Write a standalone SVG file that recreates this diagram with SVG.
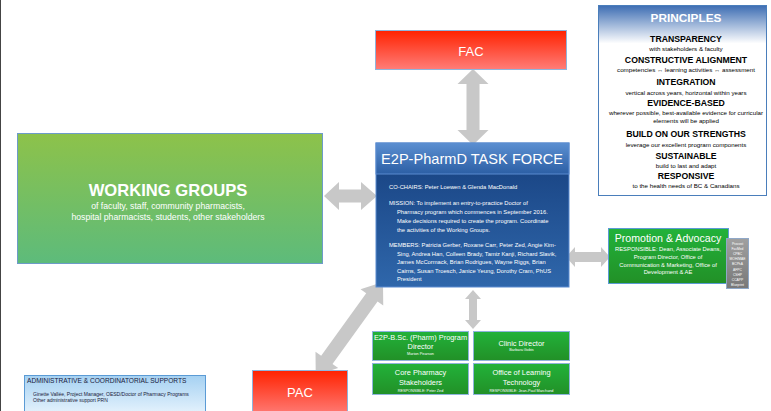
<svg xmlns="http://www.w3.org/2000/svg" width="771" height="411" viewBox="0 0 771 411">
<defs>
<linearGradient id="gRed" x1="0" y1="0" x2="0" y2="1"><stop offset="0" stop-color="#ff2200"/><stop offset="1" stop-color="#ff7d78"/></linearGradient>
<linearGradient id="gWG" x1="0" y1="0" x2="0" y2="1"><stop offset="0" stop-color="#8dc24a"/><stop offset="1" stop-color="#5dbb7b"/></linearGradient>
<linearGradient id="gTFHead" x1="0" y1="0" x2="0" y2="1"><stop offset="0" stop-color="#5b8fd1"/><stop offset="1" stop-color="#2c5fa5"/></linearGradient>
<linearGradient id="gTFBody" x1="0" y1="0" x2="0" y2="1"><stop offset="0" stop-color="#163f7e"/><stop offset="1" stop-color="#2f67ab"/></linearGradient>
<linearGradient id="gGreen" x1="0" y1="0" x2="0" y2="1"><stop offset="0" stop-color="#22b23a"/><stop offset="1" stop-color="#229027"/></linearGradient>
<linearGradient id="gGray" x1="0" y1="0" x2="0" y2="1"><stop offset="0" stop-color="#a0a0a0"/><stop offset="1" stop-color="#787878"/></linearGradient>
<linearGradient id="gAdmin" x1="0" y1="0" x2="0" y2="1"><stop offset="0" stop-color="#a5d1f2"/><stop offset="1" stop-color="#e8f4fd"/></linearGradient>
<linearGradient id="gPrin" x1="0" y1="0" x2="0" y2="1"><stop offset="0" stop-color="#3d6db3"/><stop offset="0.2" stop-color="#ffffff"/><stop offset="1" stop-color="#ffffff"/></linearGradient>
</defs>
<style>
text{font-family:"Liberation Sans",Arial,sans-serif;}
.w{fill:#ffffff;}
.c{text-anchor:middle;}
.b{font-weight:bold;}
.ph{font-size:8.7px;font-weight:bold;fill:#000;text-anchor:middle;}
.ps{font-size:6.2px;fill:#000;text-anchor:middle;}
.tf{font-size:5.8px;fill:#ffffff;}
.arrow{fill:#c8c8c8;}
.gbox{fill:url(#gGreen);stroke:#8fb4dc;stroke-width:1;}
.gt{font-size:7.4px;fill:#fff;text-anchor:middle;}
.gs{font-size:3.8px;fill:#fff;text-anchor:middle;}
.gr{font-size:3.3px;fill:#fff;text-anchor:middle;}
</style>
<rect x="0" y="0" width="771" height="411" fill="#ffffff"/>
<line x1="0.5" y1="0" x2="0.5" y2="411" stroke="#444" stroke-width="1"/>

<g id="principles">
<rect x="598.5" y="5.5" width="168" height="190" fill="url(#gPrin)" stroke="#4a7ebb" stroke-width="1"/>
<text x="686" y="21.5" class="w c b" font-size="11.8">PRINCIPLES</text>
<text x="686" y="42" class="ph">TRANSPARENCY</text>
<text x="686" y="50.5" class="ps">with stakeholders &amp; faculty</text>
<text x="686" y="63" class="ph">CONSTRUCTIVE ALIGNMENT</text>
<text x="686" y="72" class="ps">competencies ↔ learning activities  ↔ assessment</text>
<text x="686" y="85" class="ph">INTEGRATION</text>
<text x="686" y="95" class="ps">vertical across years, horizontal within years</text>
<text x="686" y="106" class="ph">EVIDENCE-BASED</text>
<text x="686" y="115" class="ps">wherever possible, best-available evidence for curricular</text>
<text x="686" y="123" class="ps">elements will be applied</text>
<text x="686" y="137" class="ph">BUILD ON OUR STRENGTHS</text>
<text x="686" y="147" class="ps">leverage our excellent program components</text>
<text x="686" y="159" class="ph">SUSTAINABLE</text>
<text x="686" y="168" class="ps">build to last and adapt</text>
<text x="686" y="179" class="ph">RESPONSIVE</text>
<text x="686" y="188" class="ps">to the health needs of BC &amp; Canadians</text>
</g>

<g id="connectors">
<polygon class="arrow" points="473,69 488.5,84 479.5,84 479.5,130 488.5,130 473,145 457.5,130 466.5,130 466.5,84 457.5,84"/>
<polygon class="arrow" points="324,196 339,182 339,189.5 361,189.5 361,182 377,196 361,210 361,202.5 339,202.5 339,210"/>
<polygon class="arrow" points="566,257 575,247 575,252 601,252 601,247 610,257 601,267 601,262 575,262 575,267"/>
<polygon class="arrow" points="473,290 481,299 477,299 477,320 481,320 473,329 465,320 469,320 469,299 465,299"/>
<polygon class="arrow" transform="translate(383,282) rotate(125.8)" points="0,0 19,-14 19,-7 96,-7 96,-14 115,0 96,14 96,7 19,7 19,14"/>
</g>

<g id="fac">
<rect x="375.5" y="30.5" width="191" height="39" fill="url(#gRed)" stroke="#8fb4dc" stroke-width="1"/>
<text x="471" y="55.5" class="w c" font-size="13">FAC</text>
</g>

<g id="working-groups">
<rect x="17.5" y="133.5" width="305" height="130" fill="url(#gWG)" stroke="#6d9bc8" stroke-width="1"/>
<text x="168" y="196" class="w c b" font-size="16.6">WORKING GROUPS</text>
<text x="168" y="209" class="w c" font-size="8.7">of faculty, staff, community pharmacists,</text>
<text x="168" y="220" class="w c" font-size="8.7">hospital pharmacists, students, other stakeholders</text>
</g>

<g id="task-force">
<rect x="376" y="143" width="193" height="144" fill="url(#gTFBody)" stroke="#5b8bd0" stroke-width="1"/>
<rect x="376" y="143" width="193" height="31" fill="url(#gTFHead)" stroke="#5b8bd0" stroke-width="1"/>
<text x="472" y="164" class="w c" font-size="14.6">E2P-PharmD TASK FORCE</text>
<text x="389" y="189" class="tf">CO-CHAIRS: Peter Loewen &amp; Glenda MacDonald</text>
<text x="389" y="205" class="tf">MISSION: To implement an entry-to-practice Doctor of</text>
<text x="397" y="214" class="tf">Pharmacy program which commences in September 2016.</text>
<text x="397" y="223" class="tf">Make decisions required to create the program.  Coordinate</text>
<text x="397" y="232" class="tf">the activities of the Working Groups.</text>
<text x="389" y="247" class="tf">MEMBERS:  Patricia Gerber, Roxane Carr, Peter Zed, Angie Kim-</text>
<text x="397" y="255.5" class="tf">Sing, Andrea Han, Colleen Brady, Tamiz Kanji, Richard Slavik,</text>
<text x="397" y="264" class="tf">James McCormack, Brian Rodrigues, Wayne Riggs, Brian</text>
<text x="397" y="272.5" class="tf">Cairns, Susan Troesch, Janice Yeung, Dorothy Cram, PhUS</text>
<text x="397" y="281" class="tf">President</text>
</g>

<g id="promotion">
<rect x="608.5" y="228.5" width="120" height="55" fill="url(#gGreen)" stroke="#5b9bd5" stroke-width="1"/>
<text x="668" y="242" class="w c" font-size="10.6">Promotion &amp; Advocacy</text>
<text x="668" y="251" class="w c" font-size="5.8">RESPONSIBLE: Dean, Associate Deans,</text>
<text x="668" y="259" class="w c" font-size="5.8">Program Director, Office of</text>
<text x="668" y="266.5" class="w c" font-size="5.8">Communication &amp; Marketing, Office of</text>
<text x="668" y="274" class="w c" font-size="5.8">Development &amp; AE</text>
</g>

<g id="partners">
<rect x="726.5" y="238.5" width="22" height="50" fill="url(#gGray)" stroke="#8fa8c8" stroke-width="1"/>
<text x="737.5" y="244.5" class="gr">Provost</text>
<text x="737.5" y="249.7" class="gr">FacMed</text>
<text x="737.5" y="254.9" class="gr">CPBC</text>
<text x="737.5" y="260.1" class="gr">MOH/MAE</text>
<text x="737.5" y="265.3" class="gr">BCPhA</text>
<text x="737.5" y="270.5" class="gr">AFPC</text>
<text x="737.5" y="275.7" class="gr">CSHP</text>
<text x="737.5" y="280.9" class="gr">CCAPP</text>
<text x="737.5" y="286.1" class="gr">Blueprint</text>
</g>

<g id="bsc-director">
<rect x="372.5" y="331.5" width="96" height="29" class="gbox"/>
<text x="420.5" y="340" class="gt">E2P-B.Sc. (Pharm) Program</text>
<text x="420.5" y="348.5" class="gt">Director</text>
<text x="420.5" y="355" class="gs" font-size="3.2">Marion Pearson</text>
</g>
<g id="clinic-director">
<rect x="473.5" y="331.5" width="96" height="29" class="gbox"/>
<text x="521.5" y="345.5" class="gt">Clinic Director</text>
<text x="521.5" y="351" class="gs">Barbara Gobis</text>
</g>
<g id="core-pharmacy">
<rect x="372.5" y="363.5" width="96" height="31" class="gbox"/>
<text x="420.5" y="374.5" class="gt">Core Pharmacy</text>
<text x="420.5" y="385" class="gt">Stakeholders</text>
<text x="420.5" y="391.5" class="gs">RESPONSIBLE: Peter Zed</text>
</g>
<g id="learning-tech">
<rect x="473.5" y="363.5" width="96" height="31" class="gbox"/>
<text x="521.5" y="374.5" class="gt">Office of Learning</text>
<text x="521.5" y="385" class="gt">Technology</text>
<text x="521.5" y="391.5" class="gs">RESPONSIBLE: Jean-Paul Marchand</text>
</g>

<g id="pac">
<rect x="252.5" y="370.5" width="95" height="45" fill="url(#gRed)" stroke="#8fb4dc" stroke-width="1"/>
<text x="300" y="397" class="w c" font-size="13">PAC</text>
</g>

<g id="admin">
<rect x="24.5" y="375.5" width="181" height="40" fill="url(#gAdmin)" stroke="#5b9bd5" stroke-width="1"/>
<text x="27" y="382.5" font-size="6.6" fill="#1a1a3a">ADMINISTRATIVE &amp; COORDINATORIAL SUPPORTS</text>
<text x="33" y="395.5" font-size="5" fill="#1a1a3a">Ginette Vallée, Project Manager, OESD/Doctor of Pharmacy Programs</text>
<text x="33" y="401.5" font-size="5" fill="#1a1a3a">Other administrative support PRN</text>
</g>
</svg>
